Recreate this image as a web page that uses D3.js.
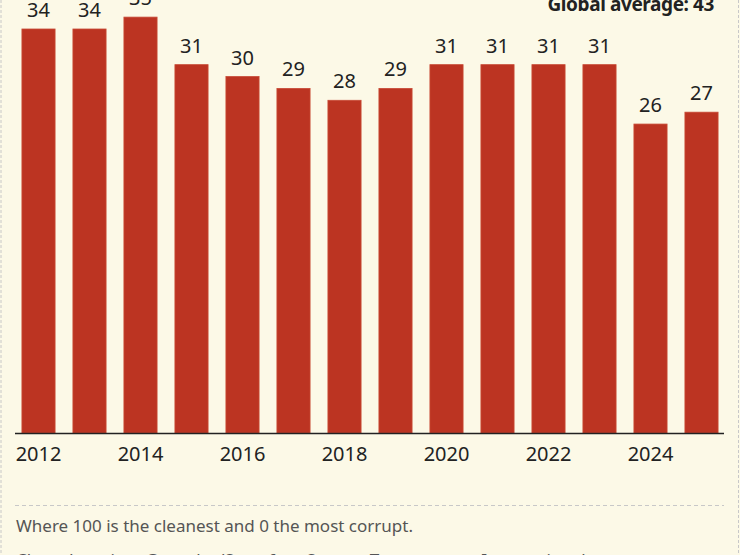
<!DOCTYPE html>
<html>
<head>
<meta charset="utf-8">
<script src="https://cdn.jsdelivr.net/npm/d3@7"></script>
<style>
  html, body { margin: 0; padding: 0; background: #fcf9e7; overflow: hidden; }
  svg { display: block; font-family: "Noto Sans", "Open Sans", sans-serif; }
</style>
</head>
<body>
<svg id="chart"></svg>
<script>
// Corruption Perceptions Index score, by year
const years = ["2012", "2013", "2014", "2015", "2016", "2017", "2018",
               "2019", "2020", "2021", "2022", "2023", "2024", "2025"];
const scores = [34, 34, 35, 31, 30, 29, 28, 29, 31, 31, 31, 31, 26, 27];
const tickYears = ["2012", "2014", "2016", "2018", "2020", "2022", "2024"];
const globalAverage = 43;
const note = "Where 100 is the cleanest and 0 the most corrupt.";
const credit = "Chart: Jeronimo Gonzalez/Semafor - Source: Transparency International";

const width = 740;
const height = 555;
const baseline = 433;

const svg = d3.select("#chart")
  .attr("width", width)
  .attr("height", height);

// background + dashed frame
svg.append("rect")
  .attr("width", width)
  .attr("height", height)
  .attr("fill", "#fcf9e7");
svg.append("line")
  .attr("x1", 1).attr("x2", 1)
  .attr("y1", 0).attr("y2", height)
  .attr("stroke", "#c8c8c8")
  .attr("stroke-dasharray", "3,2");
svg.append("line")
  .attr("x1", 738.5).attr("x2", 738.5)
  .attr("y1", 0).attr("y2", height)
  .attr("stroke", "#c8c8c8")
  .attr("stroke-dasharray", "3,2");

const data = years.map((y, i) => ({ year: y, score: scores[i] }));

const x = d3.scaleBand()
  .domain(years)
  .range([13, 727])
  .paddingInner(0.35)
  .paddingOuter(0.175);

const y = d3.scaleLinear()
  .domain([0, 34])
  .range([baseline, 29]);

// bars
svg.append("g")
  .selectAll("rect")
  .data(data)
  .join("rect")
  .attr("x", d => x(d.year))
  .attr("y", d => y(d.score))
  .attr("width", x.bandwidth())
  .attr("height", d => baseline - y(d.score))
  .attr("fill", "#bc3422")
  .attr("stroke", "#c84a36")
  .attr("stroke-width", 0.8);

// value labels
svg.append("g")
  .selectAll("text")
  .data(data)
  .join("text")
  .attr("x", d => x(d.year) + x.bandwidth() / 2)
  .attr("y", d => y(d.score) - 12)
  .attr("text-anchor", "middle")
  .attr("font-size", 20)
  .attr("fill", "#222")
  .text(d => d.score);

// x axis
const xAxis = svg.append("g")
  .attr("transform", "translate(0," + baseline + ")")
  .call(d3.axisBottom(x).tickValues(tickYears).tickSize(0).tickPadding(14));
xAxis.select(".domain").remove();
xAxis.selectAll("text")
  .attr("font-size", 20)
  .attr("font-family", "Noto Sans, sans-serif")
  .attr("fill", "#222");
svg.append("line")
  .attr("x1", 15).attr("x2", 724)
  .attr("y1", baseline + 0.5).attr("y2", baseline + 0.5)
  .attr("stroke", "#222")
  .attr("stroke-width", 1.5);

// global average note
svg.append("text")
  .attr("x", 714)
  .attr("y", 11)
  .attr("text-anchor", "end")
  .attr("font-size", 19)
  .attr("font-weight", "bold")
  .attr("letter-spacing", -0.4)
  .attr("fill", "#222")
  .text("Global average: " + globalAverage);

// footer
svg.append("line")
  .attr("x1", 15).attr("x2", 724)
  .attr("y1", 505.5).attr("y2", 505.5)
  .attr("stroke", "#c8c8c8")
  .attr("stroke-dasharray", "4,3");
svg.append("text")
  .attr("x", 16)
  .attr("y", 532)
  .attr("font-size", 17)
  .attr("fill", "#555")
  .text(note);
svg.append("text")
  .attr("x", 16)
  .attr("y", 566)
  .attr("font-size", 17)
  .attr("fill", "#555")
  .text(credit);
</script>
</body>
</html>
